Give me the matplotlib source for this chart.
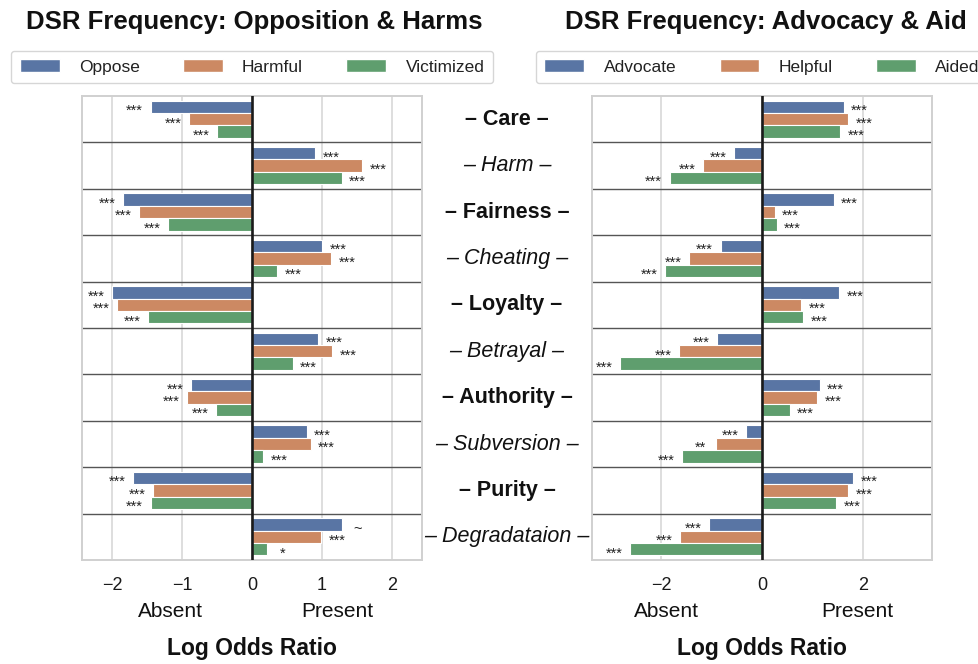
import matplotlib
matplotlib.use("Agg")
import matplotlib.pyplot as plt
from matplotlib.patches import Patch
import numpy as np

plt.rcParams['font.family'] = ['Liberation Sans', 'DejaVu Sans']

# ---------------- data ----------------
foundations = ["Care", "Harm", "Fairness", "Cheating", "Loyalty",
               "Betrayal", "Authority", "Subversion", "Purity", "Degradataion"]
virtue_rows = [True, False, True, False, True, False, True, False, True, False]

left_series = ["Oppose", "Harmful", "Victimized"]
oppose = [-1.45, 0.90, -1.84, 1.00, -2.00, 0.95, -0.87, 0.78, -1.70, 1.28]
harmful = [-0.90, 1.57, -1.61, 1.13, -1.93, 1.15, -0.93, 0.84, -1.41, 0.99]
victimized = [-0.50, 1.28, -1.20, 0.36, -1.49, 0.58, -0.51, 0.16, -1.45, 0.21]
oppose_sig = ["***"] * 9 + ["~"]
harmful_sig = ["***"] * 10
victimized_sig = ["***"] * 9 + ["*"]

right_series = ["Advocate", "Helpful", "Aided"]
advocate = [1.62, -0.56, 1.42, -0.82, 1.53, -0.89, 1.14, -0.32, 1.81, -1.05]
helpful = [1.71, -1.16, 0.25, -1.44, 0.78, -1.64, 1.09, -0.91, 1.71, -1.62]
aided = [1.55, -1.83, 0.29, -1.92, 0.81, -2.81, 0.55, -1.58, 1.47, -2.61]
advocate_sig = ["***"] * 10
helpful_sig = ["***"] * 7 + ["**"] + ["***"] * 2
aided_sig = ["***"] * 10

left_ticks = [-2, -1, 0, 1, 2]
right_ticks = [-2, 0, 2]

colors = ["#5975A4", "#CC8963", "#5F9E6E"]

W, H = 979, 664
fig = plt.figure(figsize=(W / 100, H / 100), dpi=100)

def fx(px):
    return px / W

def fy(py):
    return 1 - py / H

ax_l = fig.add_axes([fx(82), fy(560), fx(340), (560 - 96) / H])
ax_r = fig.add_axes([fx(592), fy(560), fx(340), (560 - 96) / H])

bar_h = 0.8 / 3
offsets = [-bar_h, 0, bar_h]

def draw_panel(ax, series_names, values, sigs, xlim, ticks, absent_x, present_x):
    y = np.arange(len(foundations))
    for k, (name, vals, sg) in enumerate(zip(series_names, values, sigs)):
        ax.barh(y + offsets[k], vals, height=bar_h, color=colors[k],
                edgecolor="white", linewidth=0.8, label=name, zorder=3)
        for yi, v, s in zip(y, vals, sg):
            dx = 11.5 if v >= 0 else -11.5
            ax.annotate(s, xy=(v, yi + offsets[k]), xytext=(dx, -3),
                        textcoords="offset points", ha="center", va="center",
                        fontsize=10.5, color="#222222", zorder=4)
    ax.set_xlim(*xlim)
    ax.set_ylim(len(foundations) - 0.5, -0.5)
    ax.set_yticks([])
    ax.set_xticks(ticks)
    ax.set_xticklabels([("\u2212" + str(abs(t))) if t < 0 else str(t) for t in ticks])
    ax.tick_params(axis="x", length=0, pad=12, labelsize=13, colors="#1a1a1a")
    ax.grid(axis="x", color="#d4d4d4", linewidth=1.1, zorder=0)
    ax.set_axisbelow(True)
    for sp in ax.spines.values():
        sp.set_color("#d0d0d0")
        sp.set_linewidth(1.4)
    for b in range(1, len(foundations)):
        ax.axhline(b - 0.5, color="#555555", linewidth=1.0, zorder=2)
    ax.axvline(0, color="#1a1a1a", linewidth=1.9, zorder=5)
    ax.text(absent_x, -0.11, "Absent", transform=ax.transAxes, ha="center",
            va="center", fontsize=15, color="#111111")
    ax.text(present_x, -0.11, "Present", transform=ax.transAxes, ha="center",
            va="center", fontsize=15, color="#111111")
    ax.text(0.5, -0.19, "Log Odds Ratio", transform=ax.transAxes, ha="center",
            va="center", fontsize=16.5, fontweight="bold", color="#111111")
    handles = [Patch(facecolor=c, edgecolor="white") for c in colors]
    leg = ax.legend(handles, series_names, loc="center", bbox_to_anchor=(0.5, 1.0625),
                    ncol=3, fontsize=12.5, handlelength=2.3, handleheight=0.7,
                    handletextpad=1.1, columnspacing=2.5, borderpad=0.5,
                    frameon=True, fancybox=True)
    leg.get_frame().set_edgecolor("#cccccc")
    leg.get_frame().set_linewidth(1.0)
    for t in leg.get_texts():
        t.set_color("#222222")

draw_panel(ax_l, left_series, [oppose, harmful, victimized],
           [oppose_sig, harmful_sig, victimized_sig], (-2.43, 2.43), left_ticks,
           0.26, 0.75)
draw_panel(ax_r, right_series, [advocate, helpful, aided],
           [advocate_sig, helpful_sig, aided_sig], (-3.37, 3.37), right_ticks,
           0.22, 0.78)

fig.text(fx(254), fy(22), "DSR Frequency: Opposition & Harms", ha="center",
         va="center", fontsize=18.5, fontweight="bold", color="#111111")
fig.text(fx(766), fy(22), "DSR Frequency: Advocacy & Aid", ha="center",
         va="center", fontsize=18.5, fontweight="bold", color="#111111")

# center labels
for i, (name, virtue) in enumerate(zip(foundations, virtue_rows)):
    label = "\u2013 " + name + " \u2013"
    ax_l.annotate(label, xy=(1.25, i), xycoords=("axes fraction", "data"),
                  ha="center", va="center", fontsize=15.5,
                  fontweight="bold" if virtue else "normal",
                  fontstyle="normal" if virtue else "italic",
                  color="#111111", annotation_clip=False)

fig.savefig("out.png", dpi=100)
